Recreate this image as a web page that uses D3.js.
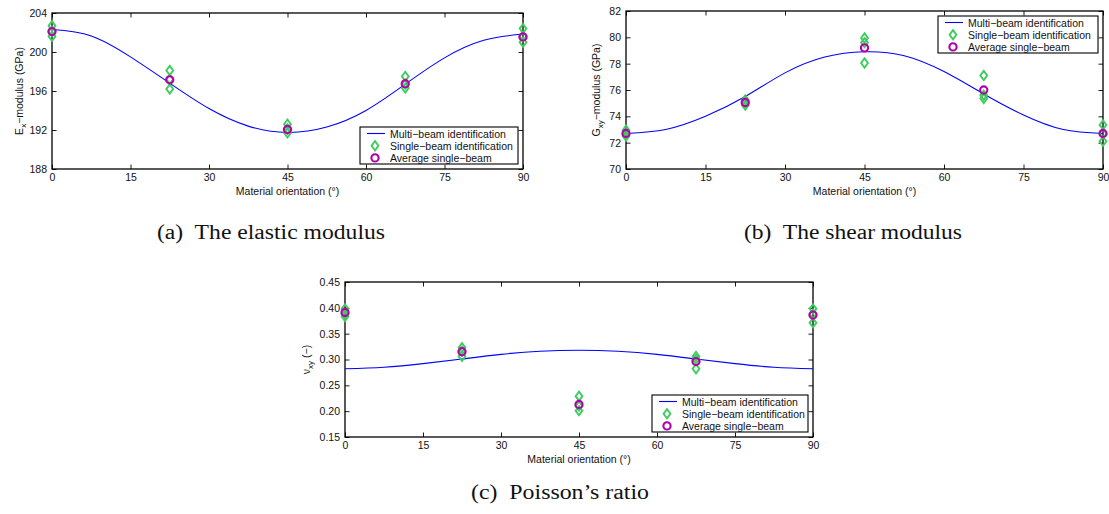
<!DOCTYPE html>
<html>
<head>
<meta charset="utf-8">
<script src="https://cdn.jsdelivr.net/npm/d3@7"></script>
<style>
  body { margin: 0; background: #fff; }
  text { font-family: "Liberation Sans", Arial, sans-serif; }
  .caption { font-family: "Liberation Serif", "Times New Roman", serif; }
</style>
</head>
<body>
<svg id="vis"></svg>
<script>
const svg = d3.select("#vis").attr("width", 1109).attr("height", 514);

const LINE_COLOR = "#0000ff";
const SINGLE_COLOR = "#3fcc5e";
const AVG_COLOR = "#b400aa";

// measured orientations
const angles = [0, 22.5, 45, 67.5, 90];
const xTicks = [0, 15, 30, 45, 60, 75, 90];
// multi-beam curve
const curveAngles = [0, 7.5, 15, 22.5, 30, 37.5, 45, 52.5, 60, 67.5, 75, 82.5, 90];

const exCurve = [202.3, 201.65, 199.5, 196.8, 194.2, 192.4, 191.75, 192.3, 194.0, 196.7, 199.4, 201.2, 201.85];
const exSingle = [[202.7, 202.1, 201.6], [198.1, 197.2, 196.2], [192.6, 192.1, 191.7], [197.5, 196.7, 196.3], [202.4, 201.6, 201.0]];
const exAvg = [202.1, 197.15, 192.05, 196.75, 201.55];
const exTicks = [188, 192, 196, 200, 204];

const gCurve = [72.7, 73.0, 74.0, 75.5, 77.3, 78.5, 78.9, 78.6, 77.4, 75.7, 74.1, 73.0, 72.7];
const gSingle = [[72.95, 72.7, 72.5], [75.25, 75.05, 74.85], [79.95, 79.6, 78.05], [77.1, 75.6, 75.35], [73.35, 72.7, 72.1]];
const gAvg = [72.7, 75.05, 79.2, 76.0, 72.7];
const gTicks = [70, 72, 74, 76, 78, 80, 82];

const nuCurve = [0.282, 0.285, 0.292, 0.301, 0.310, 0.316, 0.318, 0.316, 0.310, 0.301, 0.292, 0.285, 0.282];
const nuSingle = [[0.398, 0.388, 0.383], [0.323, 0.316, 0.306], [0.229, 0.210, 0.201], [0.306, 0.300, 0.282], [0.398, 0.388, 0.371]];
const nuAvg = [0.391, 0.315, 0.213, 0.296, 0.386];
const nuTicks = [0.15, 0.20, 0.25, 0.30, 0.35, 0.40, 0.45];

const legendLabels = ["Multi\u2212beam identification", "Single\u2212beam identification", "Average single\u2212beam"];

const diamond = "M0,-4.6L3.4,0L0,4.6L-3.4,0Z";


function drawPanel(p) {
    const x = d3.scaleLinear().domain([0, 90]).range([p.left, p.right]);
    const y = d3.scaleLinear().domain([p.ticks[0], p.ticks[p.ticks.length - 1]]).range([p.bottom, p.top]);
    const g = svg.append("g");

    // axes, MATLAB style: ticks inside, on all four sides
    const axes = [
        [d3.axisBottom(x).tickValues(xTicks).tickFormat(d3.format("d")), `translate(0,${p.bottom})`],
        [d3.axisTop(x).tickValues(xTicks).tickFormat(""), `translate(0,${p.top})`],
        [d3.axisLeft(y).tickValues(p.ticks).tickFormat(p.fmt), `translate(${p.left},0)`],
        [d3.axisRight(y).tickValues(p.ticks).tickFormat(""), `translate(${p.right},0)`]
    ];
    axes.forEach(([ax, tr]) => {
        const a = g.append("g").attr("transform", tr)
            .call(ax.tickSize(-4.5).tickPadding(5));
        a.select(".domain").remove();
        a.selectAll("line").attr("stroke", "#000").attr("stroke-width", 0.9);
        a.selectAll("text").attr("font-size", 10.5).attr("fill", "#111")
            .attr("font-family", "Liberation Sans, Arial, sans-serif");
    });
    g.append("rect")
        .attr("x", p.left).attr("y", p.top)
        .attr("width", p.right - p.left).attr("height", p.bottom - p.top)
        .attr("fill", "none").attr("stroke", "#000").attr("stroke-width", 1.3);

    // curve
    const line = d3.line()
        .x((d, i) => x(curveAngles[i]))
        .y(d => y(d))
        .curve(d3.curveNatural);
    g.append("path").datum(p.curve)
        .attr("d", line)
        .attr("fill", "none").attr("stroke", LINE_COLOR).attr("stroke-width", 1.1);

    // single-beam points
    const singles = [];
    p.single.forEach((vals, i) => vals.forEach(v => singles.push({a: angles[i], v: v})));
    g.selectAll(".single").data(singles).join("path")
        .attr("class", "single")
        .attr("d", diamond)
        .attr("transform", d => `translate(${x(d.a)},${y(d.v)})`)
        .attr("fill", "none").attr("stroke", SINGLE_COLOR).attr("stroke-width", 1.9);

    // averages
    g.selectAll(".avg").data(p.avg).join("circle")
        .attr("class", "avg")
        .attr("cx", (d, i) => x(angles[i]))
        .attr("cy", d => y(d))
        .attr("r", 3.6)
        .attr("fill", "none").attr("stroke", AVG_COLOR).attr("stroke-width", 2.1);

    // axis labels
    g.append("text")
        .attr("x", (p.left + p.right) / 2).attr("y", p.bottom + 26)
        .attr("text-anchor", "middle").attr("font-size", 10.5).attr("fill", "#111")
        .text("Material orientation (\u00b0)");

    const yl = g.append("text")
        .attr("transform", `translate(${p.left + p.ylabelOffset},${(p.top + p.bottom) / 2}) rotate(-90)`)
        .attr("text-anchor", "middle").attr("font-size", 10.5).attr("fill", "#111");
    yl.append("tspan").text(p.ylabel[0]);
    yl.append("tspan").attr("font-size", 8).attr("dy", 3).text(p.ylabel[1]);
    yl.append("tspan").attr("dy", -3).text(p.ylabel[2]);

    // legend
    const lw = p.legendWidth, lh = 37;
    const lx = p.right - 5 - lw;
    const ly = p.legendPos === "top" ? p.top + 5 : p.bottom - 5 - lh;
    const lg = g.append("g").attr("transform", `translate(${lx},${ly})`);
    lg.append("rect").attr("width", lw).attr("height", lh)
        .attr("fill", "#fff").attr("stroke", "#000").attr("stroke-width", 1.1);
    legendLabels.forEach((t, i) => {
        const cy = 6.5 + i * 12.2;
        lg.append("text").attr("x", 30).attr("y", cy + 4)
            .attr("font-size", 10.5).attr("fill", "#111").text(t);
    });
    lg.append("line").attr("x1", 7).attr("x2", 25).attr("y1", 6.5).attr("y2", 6.5)
        .attr("stroke", LINE_COLOR).attr("stroke-width", 1.1);
    lg.append("path").attr("d", diamond).attr("transform", "translate(15,18.7)")
        .attr("fill", "none").attr("stroke", SINGLE_COLOR).attr("stroke-width", 1.9);
    lg.append("circle").attr("cx", 15).attr("cy", 30.9).attr("r", 3.6)
        .attr("fill", "none").attr("stroke", AVG_COLOR).attr("stroke-width", 2.1);

    // caption
    svg.append("text").attr("class", "caption")
        .attr("x", p.capX).attr("y", p.capY)
        .attr("text-anchor", "middle").attr("font-size", 20).attr("fill", "#111")
        .attr("textLength", p.capWidth).attr("lengthAdjust", "spacingAndGlyphs")
        .attr("xml:space", "preserve")
        .text(p.caption);
}


function main() {
    drawPanel({
        left: 52, right: 523, top: 13, bottom: 169,
        ticks: exTicks, fmt: d3.format("d"),
        curve: exCurve, single: exSingle, avg: exAvg,
        ylabel: ["E", "x", "\u2212modulus (GPa)"], ylabelOffset: -29,
        legendPos: "bottom", legendWidth: 158,
        caption: "(a)  The elastic modulus", capX: 271, capY: 239, capWidth: 228
    });
    drawPanel({
        left: 626, right: 1103, top: 11, bottom: 169,
        ticks: gTicks, fmt: d3.format("d"),
        curve: gCurve, single: gSingle, avg: gAvg,
        ylabel: ["G", "xy", "\u2212modulus (GPa)"], ylabelOffset: -26,
        legendPos: "top", legendWidth: 160,
        caption: "(b)  The shear modulus", capX: 853, capY: 239, capWidth: 218
    });
    drawPanel({
        left: 345, right: 813, top: 282, bottom: 437,
        ticks: nuTicks, fmt: d3.format(".2f"),
        curve: nuCurve, single: nuSingle, avg: nuAvg,
        ylabel: ["\u03bd", "xy", " (\u2212)"], ylabelOffset: -35,
        legendPos: "bottom", legendWidth: 156,
        caption: "(c)  Poisson\u2019s ratio", capX: 560, capY: 499, capWidth: 178
    });
}


main();
</script>
</body>
</html>
